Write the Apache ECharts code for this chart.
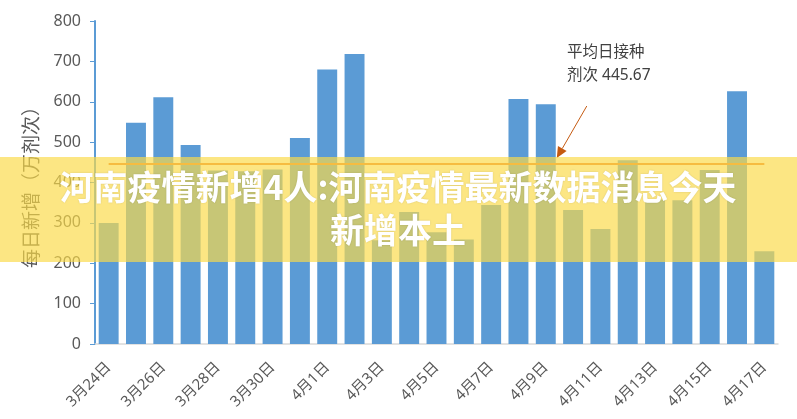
<!DOCTYPE html>
<html>
<head>
<meta charset="utf-8">
<script src="https://cdn.jsdelivr.net/npm/echarts@6/dist/echarts.min.js"></script>
<style>
html, body { margin: 0; padding: 0; background: #fff; }
#chart { width: 797px; height: 419px; }
</style>
</head>
<body>
<div id="chart"></div>
<script>
// 日期
var categories = ['3月24日', '3月25日', '3月26日', '3月27日', '3月28日', '3月29日', '3月30日', '3月31日',
	'4月1日', '4月2日', '4月3日', '4月4日', '4月5日', '4月6日', '4月7日', '4月8日', '4月9日',
	'4月10日', '4月11日', '4月12日', '4月13日', '4月14日', '4月15日', '4月16日', '4月17日'];
// 每日新增（万剂次）
var doses = [300, 548, 611, 493, 430, 428, 432, 510, 680, 718, 257, 327, 277, 259, 344, 607, 594,
	332, 285, 455, 358, 356, 431, 626, 230];
var avgDose = 445.67;
var yTicks = [0, 100, 200, 300, 400, 500, 600, 700, 800];
var bannerTitle = '河南疫情新增4人:河南疫情最新数据消息今天\n新增本土';

var font = '"Noto Sans", "Noto Sans CJK SC", sans-serif';
var chart = echarts.init(document.getElementById('chart'));

var option = {
	animation: false,
	grid: { left: 95, right: 19, top: 21, bottom: 75 },
	xAxis: {
		type: 'category',
		data: categories,
		axisLine: { lineStyle: { color: '#d9d9d9', width: 1.5 } },
		axisTick: { interval: 1, length: 5, lineStyle: { color: '#d9d9d9' } },
		axisLabel: {
			interval: 1, rotate: 45, margin: 21,
			color: '#595959', fontSize: 15, fontFamily: font
		}
	},
	yAxis: {
		type: 'value',
		min: yTicks[0],
		max: yTicks[yTicks.length - 1],
		interval: 100,
		name: '每日新增（万剂次）',
		nameLocation: 'middle',
		nameRotate: 90,
		nameGap: 53,
		nameTextStyle: { color: '#595959', fontSize: 19, fontFamily: font },
		splitLine: { show: false },
		axisLine: { show: true, lineStyle: { color: '#5b9bd5', width: 2 } },
		axisTick: { show: true, length: 5, lineStyle: { color: '#5b9bd5' } },
		axisLabel: { color: '#595959', fontSize: 16, margin: 14, fontFamily: font }
	},
	series: [{
		type: 'bar',
		data: doses,
		barWidth: '73%',
		itemStyle: { color: '#5b9bd5' },
		markLine: {
			silent: true,
			symbol: 'none',
			label: { show: false },
			lineStyle: { color: '#ed7d31', width: 2, type: 'solid' },
			data: [[
				{ coord: [categories[0], avgDose] },
				{ coord: [categories[categories.length - 1], avgDose] }
			]]
		}
	}]
};
chart.setOption(option);

// 标注箭头指向平均线
var tip = chart.convertToPixel({ gridIndex: 0 }, [categories[16], avgDose]);
var tipX = tip[0] + 11, tipY = tip[1] - 6;
var startX = tipX + 30, startY = tipY - 52;
var ang = Math.atan2(tipY - startY, tipX - startX);
var ah = 11, aw = 5;
var bx = tipX - ah * Math.cos(ang), by = tipY - ah * Math.sin(ang);

chart.setOption({
	graphic: [
		{
			type: 'text', left: 567, top: 41, z: 50,
			style: {
				text: '平均日接种\n剂次 445.67',
				fill: '#404040', fontSize: 15.5, lineHeight: 23, fontFamily: font
			}
		},
		{
			type: 'line', z: 50,
			shape: { x1: startX, y1: startY, x2: bx, y2: by },
			style: { stroke: '#c55a11', lineWidth: 1 }
		},
		{
			type: 'polygon', z: 50,
			shape: {
				points: [
					[tipX, tipY],
					[bx + aw * Math.sin(ang), by - aw * Math.cos(ang)],
					[bx - aw * Math.sin(ang), by + aw * Math.cos(ang)]
				]
			},
			style: { fill: '#c55a11' }
		},
		{
			type: 'rect', z: 100,
			shape: { x: 0, y: 157, width: 797, height: 105 },
			style: { fill: 'rgba(250,218,72,0.68)' }
		},
		{
			type: 'text', z: 101,
			x: 398, y: 209,
			style: {
				text: bannerTitle,
				align: 'center', verticalAlign: 'middle',
				fill: '#ffffff', fontSize: 34, fontWeight: 'bold', lineHeight: 43,
				fontFamily: '"Noto Sans CJK SC", sans-serif',
				textShadowColor: 'rgba(0,0,0,0.15)', textShadowBlur: 2
			}
		}
	]
});
</script>
</body>
</html>
